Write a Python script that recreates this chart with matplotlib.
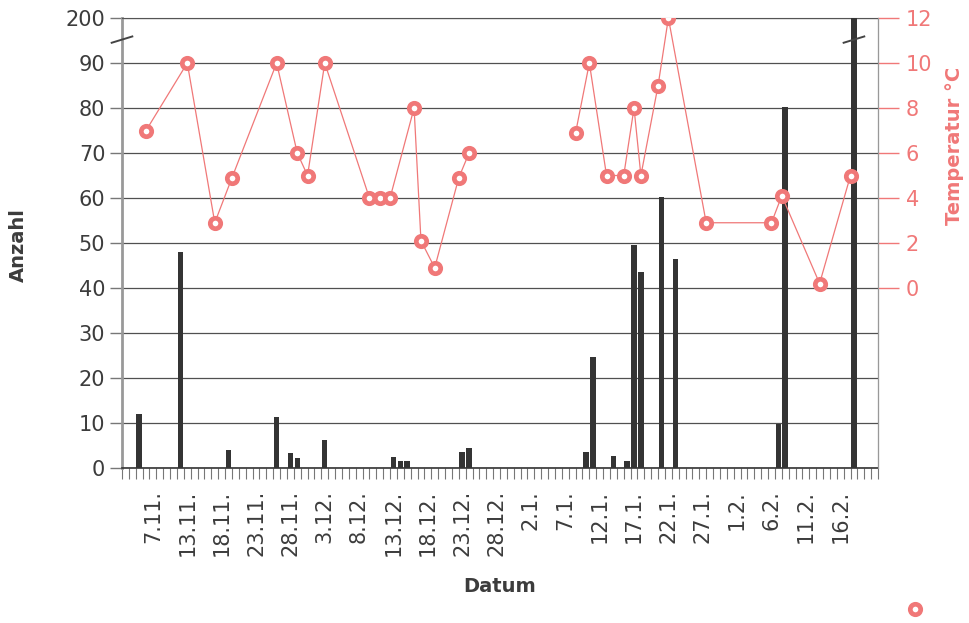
import numpy as np
import matplotlib
matplotlib.use("Agg")
import matplotlib.pyplot as plt
from matplotlib.lines import Line2D

plt.rcParams['font.family'] = ['DejaVu Sans']

# day numbers: 1 = 1.11., 31 = 1.12., 62 = 1.1., 93 = 1.2.
count_days = [6, 12, 19, 26, 28, 29, 33, 43, 44, 45, 53, 54,
              71, 72, 75, 77, 78, 79, 82, 84, 99, 100, 110]
counts = [12, 48, 4, 11.3, 3.3, 2.3, 6.2, 2.4, 1.5, 1.5, 3.5, 4.5,
          3.6, 24.7, 2.7, 1.6, 49.5, 43.5, 60.3, 46.5, 9.8, 80.3, 200]

# temperature, two measuring periods (no line across the holidays)
temp_days_autumn = [7, 13, 17, 19.5, 26, 29, 30.5, 33, 39.5, 41, 42.5, 46,
                    47, 49, 52.5, 54]
temps_autumn = [7, 10, 2.9, 4.9, 10, 6, 5, 10, 4, 4, 4, 8, 2.1, 0.9, 4.9, 6]
temp_days_winter = [69.5, 71.5, 74, 76.5, 78, 79, 81.5, 83, 88.5, 98, 99.5,
                    105, 109.5]
temps_winter = [6.9, 10, 5, 5, 8, 5, 9, 12, 2.9, 2.9, 4.1, 0.2, 5]

label_days = [8, 13, 18, 23, 28, 33, 38, 43, 48, 53, 58, 63, 68, 73, 78,
              83, 88, 93, 98, 103, 108]
date_labels = ["7.11.", "13.11.", "18.11.", "23.11.", "28.11.", "3.12.",
               "8.12.", "13.12.", "18.12.", "23.12.", "28.12.", "2.1.",
               "7.1.", "12.1.", "17.1.", "22.1.", "27.1.", "1.2.", "6.2.",
               "11.2.", "16.2."]

count_ticks = [0, 10, 20, 30, 40, 50, 60, 70, 80, 90, 100]
count_labels = ["0", "10", "20", "30", "40", "50", "60", "70", "80", "90", "200"]
temp_ticks = [0, 2, 4, 6, 8, 10, 12]

salmon = '#f07878'
dark = '#3c3c3c'

fig = plt.figure(figsize=(9.69, 6.23), dpi=100)
ax = fig.add_axes([0.1259, 0.2488, 0.7802, 0.7223])

ax.bar(count_days, counts, width=0.8, color='#343434', zorder=3)
ax.set_xlim(3.5, 113.5)
ax.set_ylim(0, 100)
ax.set_yticks(count_ticks)
ax.set_yticklabels(count_labels)
ax.yaxis.grid(True, color='#505050', lw=0.9, zorder=0)
ax.tick_params(axis='y', length=9, width=1, color='#777777', labelsize=15,
               labelcolor=dark, pad=3)

ax.set_xticks(label_days)
ax.set_xticklabels(date_labels, rotation=90)
ax.set_xticks(np.arange(3.5, 114, 1), minor=True)
ax.tick_params(axis='x', which='major', length=0, labelsize=15,
               labelcolor=dark, pad=16)
ax.tick_params(axis='x', which='minor', length=8, width=0.8, color='#777777')

for s in ['top', 'right']:
    ax.spines[s].set_color('#555555')
ax.spines['left'].set_color('#999999')
ax.spines['left'].set_linewidth(2)
ax.spines['bottom'].set_color('#333333')
ax.spines['bottom'].set_linewidth(1.2)

ax.set_ylabel("Anzahl", fontsize=14, fontweight='bold', color=dark)
ax.yaxis.set_label_coords(-0.124, 0.495)
ax.set_xlabel("Datum", fontsize=14, fontweight='bold', color=dark)
ax.xaxis.set_label_coords(0.5, -0.243)

# axis break marks
xl = ax.get_xlim()
ax.plot([xl[0] - 1.5, xl[0] + 1.5], [94.5, 95.9], color='#444444', lw=1.4,
        clip_on=False, zorder=5)
ax.plot([count_days[-1] - 1.5, count_days[-1] + 1.5], [94.5, 95.9],
        color='#444444', lw=1.4, clip_on=False, zorder=5)

ax2 = ax.twinx()
ax2.set_ylim(-8, 12)
ax2.set_yticks(temp_ticks)
ax2.tick_params(axis='y', length=15, width=1, color=salmon, labelsize=15,
                labelcolor=salmon, pad=5)
ax2.spines['right'].set_color('#999999')
for s in ['top', 'left', 'bottom']:
    ax2.spines[s].set_visible(False)
for d, t in [(temp_days_autumn, temps_autumn), (temp_days_winter, temps_winter)]:
    ax2.plot(d, t, color=salmon, lw=0.9, marker='o', ms=7.5, mew=3.4,
             mfc='white', mec=salmon, zorder=4)
ax2.set_ylabel("Temperatur °C", fontsize=14, fontweight='bold', color=salmon)
ax2.yaxis.set_label_coords(1.089, 0.715)

marker = Line2D([], [], ls='none', marker='o', ms=7.5, mew=3.4, mfc='white',
                mec=salmon)
ax2.legend([marker], [''], loc='center', bbox_to_anchor=(0.944, 0.021),
           bbox_transform=fig.transFigure, frameon=False, handlelength=1,
           handletextpad=0)

fig.savefig("out.png", dpi=100)
